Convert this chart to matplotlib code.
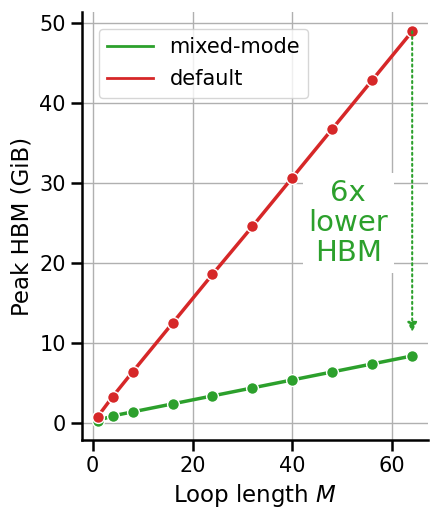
import matplotlib
matplotlib.use("Agg")
import matplotlib.pyplot as plt
from matplotlib.lines import Line2D

# loop lengths and peak HBM values (GiB)
loop_len = [1, 4, 8, 16, 24, 32, 40, 48, 56, 64]
hbm_mixed = [0.3, 0.9, 1.4, 2.4, 3.4, 4.4, 5.4, 6.4, 7.4, 8.4]
hbm_default = [0.8, 3.3, 6.4, 12.5, 18.6, 24.6, 30.7, 36.8, 42.9, 49.0]

plt.rcParams['font.family'] = 'DejaVu Sans'
fig = plt.figure(figsize=(4.38, 5.16), dpi=100)
ax = fig.add_axes([0.187, 0.147, 0.79, 0.83])

green = '#2ca02c'
red = '#d62728'

ax.plot(loop_len, hbm_mixed, color=green, lw=2.5, marker='o', ms=8.5,
        mec='white', mew=1, zorder=3)
ax.plot(loop_len, hbm_default, color=red, lw=2.5, marker='o', ms=8.5,
        mec='white', mew=1, zorder=3)

# dotted arrow from default to mixed-mode at the last point
ax.annotate('', xy=(loop_len[-1], hbm_mixed[-1] + 3),
            xytext=(loop_len[-1], hbm_default[-1]),
            arrowprops=dict(arrowstyle='-|>', color=green, ls=':', lw=1.5,
                            shrinkA=0, shrinkB=0, mutation_scale=14))
ax.text(51.2, 25, '6x\nlower\nHBM', color=green, fontsize=21, ha='center',
        va='center', linespacing=1.1,
        bbox=dict(facecolor='white', edgecolor='none', pad=4))

ax.grid(True, color='#b0b0b0', lw=1)
ax.set_axisbelow(True)
for s in ['top', 'right']:
    ax.spines[s].set_visible(False)
for s in ['left', 'bottom']:
    ax.spines[s].set_linewidth(1.8)
ax.tick_params(labelsize=15, length=8, width=1.8)
ax.set_xticks([0, 20, 40, 60])
ax.set_yticks([0, 10, 20, 30, 40, 50])
ax.set_xlabel('Loop length $M$', fontsize=16.5)
ax.set_ylabel('Peak HBM (GiB)', fontsize=16.5)

handles = [Line2D([], [], color=green, lw=2), Line2D([], [], color=red, lw=2)]
ax.legend(handles, ['mixed-mode', 'default'], loc='upper left', fontsize=15,
          handlelength=2.2, borderaxespad=0.8, labelspacing=0.6)

fig.savefig('out.png', dpi=100)
